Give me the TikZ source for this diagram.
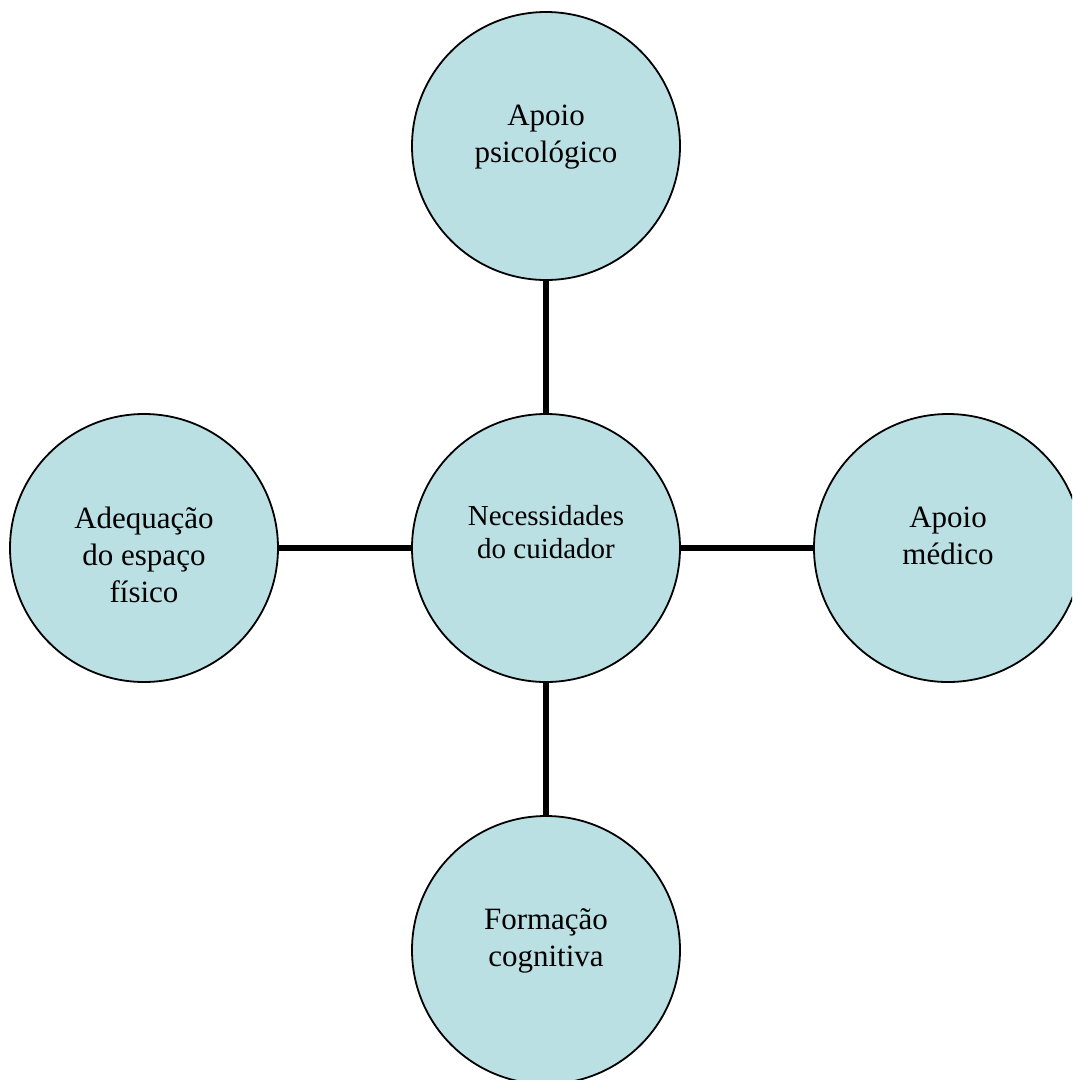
\documentclass[tikz,border=0pt]{standalone}
\usepackage{fontspec}
\setmainfont{Liberation Serif}
\definecolor{bubble}{RGB}{187,224,227}
\begin{document}
\begin{tikzpicture}[x=1pt,y=-1pt,
  bub/.style={circle,draw=black,line width=1.8pt,fill=bubble,minimum size=268pt,inner sep=0pt},
  outertxt/.style={align=center,font=\fontsize{31}{37}\selectfont,inner sep=0pt},
  centertxt/.style={align=center,font=\fontsize{29}{33}\selectfont,inner sep=0pt},
  conn/.style={line width=6pt,black}]
\useasboundingbox (0,0) rectangle (1072,1080);
\clip (0,0) rectangle (1072,1080);
\node[bub] (c) at (546,548) {};
\node[bub] (top) at (546,146) {};
\node[bub] (left) at (144,548) {};
\node[bub] (right) at (948,548) {};
\node[bub] (bottom) at (546,950) {};
\draw[conn] (c) -- (top);
\draw[conn] (c) -- (left);
\draw[conn] (c) -- (right);
\draw[conn] (c) -- (bottom);
\node[centertxt] (tc) at (546,531.6) {Necessidades\\do cuidador};
\node[outertxt] (ttop) at (546,137.4) {Apoio\\psicológico};
\node[outertxt] (tright) at (948,536) {Apoio\\médico};
\node[outertxt] (tbottom) at (546,940.6) {Formação\\cognitiva};
\node[outertxt] (tleft) at (144,555) {Adequação\\do espaço\\físico};
\end{tikzpicture}
\end{document}
